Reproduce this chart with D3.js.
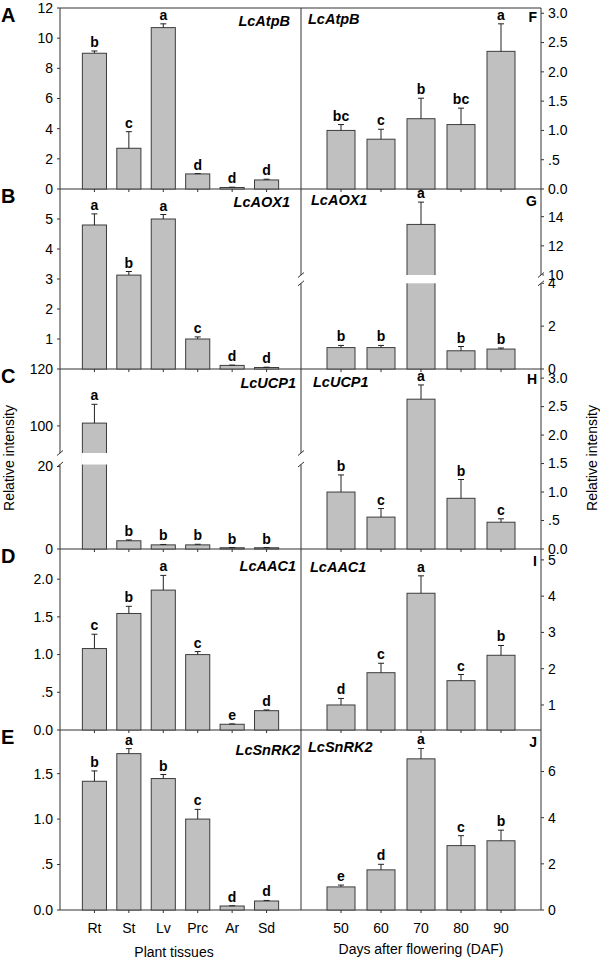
<!DOCTYPE html>
<html><head><meta charset="utf-8">
<script src="https://cdn.jsdelivr.net/npm/d3@7"></script>
<style>body{margin:0;background:#fff}text{font-family:"Liberation Sans",Arial,Helvetica,sans-serif;fill:#000}</style>
</head><body><svg id="c" width="600" height="961"></svg>
<script>
// ---------- DATA ----------
const tissues = ["Rt","St","Lv","Prc","Ar","Sd"];
const days = ["50","60","70","80","90"];

// A  LcAtpB – tissues
const atpbTissueMean = [9.0, 2.7, 10.7, 1.0, 0.1, 0.6];
const atpbTissueErr  = [0.15, 1.1, 0.25, 0.02, 0.02, 0.05];
const atpbTissueSig  = ["b","c","a","d","d","d"];
// F  LcAtpB – DAF
const atpbDafMean = [1.0, 0.85, 1.2, 1.1, 2.35];
const atpbDafErr  = [0.1, 0.17, 0.35, 0.28, 0.47];
const atpbDafSig  = ["bc","c","b","bc","a"];
// B  LcAOX1 – tissues
const aoxTissueMean = [4.8, 3.13, 5.0, 1.0, 0.12, 0.05];
const aoxTissueErr  = [0.37, 0.12, 0.15, 0.07, 0.01, 0.01];
const aoxTissueSig  = ["a","b","a","c","d","d"];
// G  LcAOX1 – DAF
const aoxDafMean = [1.0, 1.0, 13.47, 0.85, 0.93];
const aoxDafErr  = [0.1, 0.1, 1.53, 0.2, 0.05];
const aoxDafSig  = ["b","b","a","b","b"];
// C  LcUCP1 – tissues
const ucpTissueMean = [101, 2.0, 1.0, 1.0, 0.3, 0.3];
const ucpTissueErr  = [6.6, 0.2, 0.1, 0.15, 0.05, 0.05];
const ucpTissueSig  = ["a","b","b","b","b","b"];
// H  LcUCP1 – DAF
const ucpDafMean = [1.0, 0.56, 2.63, 0.89, 0.47];
const ucpDafErr  = [0.3, 0.15, 0.25, 0.33, 0.06];
const ucpDafSig  = ["b","c","a","b","c"];
// D  LcAAC1 – tissues
const aacTissueMean = [1.08, 1.545, 1.855, 1.0, 0.076, 0.256];
const aacTissueErr  = [0.19, 0.095, 0.195, 0.04, 0.005, 0.01];
const aacTissueSig  = ["c","b","a","c","e","d"];
// I  LcAAC1 – DAF
const aacDafMean = [1.0, 1.89, 4.08, 1.67, 2.37];
const aacDafErr  = [0.18, 0.26, 0.48, 0.17, 0.27];
const aacDafSig  = ["d","c","a","c","b"];
// E  LcSnRK2 – tissues
const snrkTissueMean = [1.416, 1.72, 1.446, 1.0, 0.044, 0.099];
const snrkTissueErr  = [0.114, 0.055, 0.044, 0.107, 0.003, 0.006];
const snrkTissueSig  = ["b","a","b","c","d","d"];
// J  LcSnRK2 – DAF
const snrkDafMean = [1.0, 1.74, 6.55, 2.79, 3.0];
const snrkDafErr  = [0.08, 0.24, 0.45, 0.43, 0.46];
const snrkDafSig  = ["e","d","a","c","b"];

// tick values and labels
const ticks12 = [0,2,4,6,8,10,12];            const ticks12Lab = ["0","2","4","6","8","10","12"];
const ticks3  = [0,0.5,1,1.5,2,2.5,3];        const ticks3Lab  = ["0.0",".5","1.0","1.5","2.0","2.5","3.0"];
const ticks5  = [1,2,3,4,5];                  const ticks5Lab  = ["1","2","3","4","5"];
const ticksG  = [0,2,4,10,12,14];             const ticksGLab  = ["0","2","4","10","12","14"];
const ticksC  = [0,20,100,120];               const ticksCLab  = ["0","20","100","120"];
const ticks2  = [0,0.5,1,1.5,2];              const ticks2Lab  = ["0.0",".5","1.0","1.5","2.0"];
const ticks15 = [0,0.5,1,1.5];                const ticks15Lab = ["0.0",".5","1.0","1.5"];
const ticks6  = [0,2,4,6];                    const ticks6Lab  = ["0","2","4","6"];

const geneNames = ["LcAtpB","LcAOX1","LcUCP1","LcAAC1","LcSnRK2"];
const leftLetters = ["A","B","C","D","E"];
const rightLetters = ["F","G","H","I","J"];

// ---------- LAYOUT ----------
const X0 = 60, XM = 301, X1 = 541;
const rowTop = [8,189,369,549,730], rowBot = [189,369,549,730,910];
const AX = "#333";
const FS = 14;

const panels = [
  {side:"L", row:0, mean:atpbTissueMean, err:atpbTissueErr, sig:atpbTissueSig, ticks:ticks12, lab:ticks12Lab, domain:[0,12], gx:290, gy:18},
  {side:"R", row:0, mean:atpbDafMean, err:atpbDafErr, sig:atpbDafSig, ticks:ticks3, lab:ticks3Lab, domain:[0,3.09], gx:308, gy:16, ly:14},
  {side:"L", row:1, mean:aoxTissueMean, err:aoxTissueErr, sig:aoxTissueSig, ticks:ticks5, lab:ticks5Lab, domain:[0,6], gx:290, gy:18},
  {side:"R", row:1, mean:aoxDafMean, err:aoxDafErr, sig:aoxDafSig, ticks:ticksG, lab:ticksGLab, domain:[0,15.9],
     brk:{lowMax:4, highMin:10, lowPx:85.7, gapPx:8.3}, gx:311, gy:16, ly:17},
  {side:"L", row:2, mean:ucpTissueMean, err:ucpTissueErr, sig:ucpTissueSig, ticks:ticksC, lab:ticksCLab, domain:[0,120],
     brk:{lowMax:20.5, highMin:90.5, lowPx:84.5, gapPx:11.5}, gx:296, gy:19},
  {side:"R", row:2, mean:ucpDafMean, err:ucpDafErr, sig:ucpDafSig, ticks:ticks3, lab:ticks3Lab, domain:[0,3.16], gx:313, gy:18, ly:15},
  {side:"L", row:3, mean:aacTissueMean, err:aacTissueErr, sig:aacTissueSig, ticks:ticks2, lab:ticks2Lab, domain:[0,2.4], gx:296, gy:22},
  {side:"R", row:3, mean:aacDafMean, err:aacDafErr, sig:aacDafSig, ticks:ticks5, lab:ticks5Lab, domain:[0.31,5.3], gx:310, gy:23, ly:17},
  {side:"L", row:4, mean:snrkTissueMean, err:snrkTissueErr, sig:snrkTissueSig, ticks:ticks15, lab:ticks15Lab, domain:[0,1.98], gx:300, gy:25},
  {side:"R", row:4, mean:snrkDafMean, err:snrkDafErr, sig:snrkDafSig, ticks:ticks6, lab:ticks6Lab, domain:[0,7.8], gx:308, gy:22, ly:17}
];

const svg = d3.select("#c");
const xL = d3.scalePoint().domain(tissues).range([X0, XM]).padding(1);
const xR = d3.scalePoint().domain(days).range([XM, X1]).padding(1);

function makeY(p, top, bot){
  if(!p.brk) return d3.scaleLinear().domain(p.domain).range([bot, top]);
  const b = p.brk;
  const low = d3.scaleLinear().domain([p.domain[0], b.lowMax]).range([bot, bot - b.lowPx]);
  const high = d3.scaleLinear().domain([b.highMin, p.domain[1]]).range([bot - b.lowPx - b.gapPx, top]);
  const f = v => v <= b.lowMax ? low(v) : high(v);
  f.gap = [bot - b.lowPx - b.gapPx, bot - b.lowPx];
  return f;
}

// frame lines
const frame = svg.append("g").attr("stroke", AX).attr("stroke-width", 1).attr("fill","none");
[X0, XM, X1].forEach(x => frame.append("line").attr("x1",x).attr("x2",x).attr("y1",rowTop[0]).attr("y2",rowBot[4]));
frame.append("line").attr("x1",X0).attr("x2",X1).attr("y1",rowTop[0]).attr("y2",rowTop[0]);
rowBot.forEach(y => frame.append("line").attr("x1",X0).attr("x2",X1).attr("y1",y).attr("y2",y));

const breaks = [];

panels.forEach(p => {
  const top = rowTop[p.row], bot = rowBot[p.row];
  const left = p.side === "L";
  const xs = left ? xL : xR;
  const cats = left ? tissues : days;
  const bw = xs.step() * 0.7;
  const y = makeY(p, top, bot);
  const base = bot;
  const g = svg.append("g");

  // x ticks (pointing down)
  g.selectAll("line.xt").data(cats).join("line")
    .attr("x1", d => xs(d)).attr("x2", d => xs(d))
    .attr("y1", bot).attr("y2", bot + 3).attr("stroke", AX);

  // bars
  g.selectAll("rect.bar").data(p.mean).join("rect")
    .attr("x", (d,i) => xs(cats[i]) - bw/2).attr("width", bw)
    .attr("y", d => y(d)).attr("height", d => base - y(d))
    .attr("fill", "#c0c0c0").attr("stroke", "#3c3c3c").attr("stroke-width", 1);

  // break band through tall bars
  if (p.brk) {
    p.mean.forEach((m,i) => {
      if (m > p.brk.lowMax) {
        g.append("rect").attr("x", xs(cats[i]) - bw/2 - 1).attr("width", bw + 2)
          .attr("y", y.gap[0]).attr("height", y.gap[1] - y.gap[0]).attr("fill", "#fff");
      }
    });
    breaks.push({x: left ? X0 : XM, gap: y.gap});
    breaks.push({x: left ? XM : X1, gap: y.gap});
  }

  // error bars
  p.mean.forEach((m,i) => {
    const cx = xs(cats[i]);
    const yt = y(m + p.err[i]);
    g.append("line").attr("x1",cx).attr("x2",cx).attr("y1",y(m)).attr("y2",yt).attr("stroke","#222");
    g.append("line").attr("x1",cx-3).attr("x2",cx+3).attr("y1",yt).attr("y2",yt).attr("stroke","#222");
    g.append("text").attr("x",cx).attr("y",yt-4).attr("text-anchor","middle")
      .attr("font-size",14).attr("font-weight","bold").text(p.sig[i]);
  });

  // y axis ticks + labels
  const ax = left ? X0 : X1;
  const dir = left ? -1 : 1;
  g.selectAll("line.yt").data(p.ticks).join("line")
    .attr("x1", ax).attr("x2", ax + dir*3)
    .attr("y1", d => y(d)).attr("y2", d => y(d)).attr("stroke", AX);
  g.selectAll("text.yl").data(p.ticks).join("text")
    .attr("x", ax + dir*7).attr("y", d => y(d)).attr("dy","0.35em")
    .attr("text-anchor", left ? "end" : "start").attr("font-size",FS)
    .text((d,i) => p.lab[i]);

  // gene label
  g.append("text").attr("x", p.gx).attr("y", top + p.gy)
    .attr("text-anchor", left ? "end" : "start")
    .attr("font-size",14.5).attr("font-weight","bold").attr("font-style","italic")
    .text(geneNames[p.row]);

  // panel letter
  if (left) {
    g.append("text").attr("x",1).attr("y",top + 14).attr("font-size",20).attr("font-weight","bold").text(leftLetters[p.row]);
  } else {
    g.append("text").attr("x",537).attr("y",top + p.ly).attr("text-anchor","end")
      .attr("font-size",14).attr("font-weight","bold").text(rightLetters[p.row]);
  }
});

// axis break marks
breaks.forEach(b => {
  svg.append("rect").attr("x", b.x - 1.5).attr("width",3).attr("y", b.gap[0]).attr("height", b.gap[1]-b.gap[0]).attr("fill","#fff");
  b.gap.forEach(yy => {
    svg.append("line").attr("x1", b.x - 3).attr("x2", b.x + 3).attr("y1", yy + 2.5).attr("y2", yy - 2.5)
      .attr("stroke", AX).attr("stroke-width",1);
  });
});

// category labels
svg.selectAll("text.cl").data(tissues).join("text").attr("x", d => xL(d)).attr("y", 933)
  .attr("text-anchor","middle").attr("font-size",FS).text(d => d);
svg.selectAll("text.cr").data(days).join("text").attr("x", d => xR(d)).attr("y", 933)
  .attr("text-anchor","middle").attr("font-size",FS).text(d => d);

svg.append("text").attr("x",174).attr("y",957).attr("text-anchor","middle").attr("font-size",FS).text("Plant tissues");
svg.append("text").attr("x",421).attr("y",954).attr("text-anchor","middle").attr("font-size",FS).text("Days after flowering (DAF)");

svg.append("text").attr("transform","translate(14,458) rotate(-90)").attr("text-anchor","middle").attr("font-size",FS).text("Relative intensity");
svg.append("text").attr("transform","translate(597,458) rotate(-90)").attr("text-anchor","middle").attr("font-size",FS).text("Relative intensity");
</script>
</body></html>
